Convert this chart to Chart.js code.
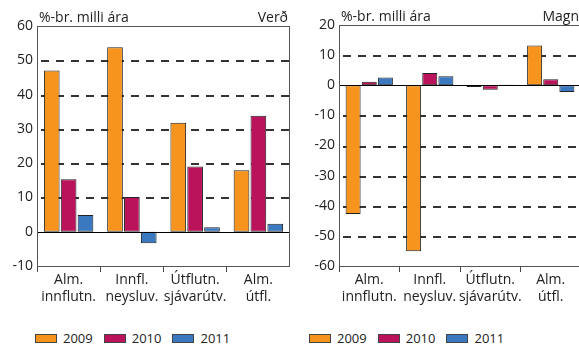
<!DOCTYPE html>
<html><head><meta charset="utf-8">
<script src="https://cdn.jsdelivr.net/npm/chart.js@4/dist/chart.umd.min.js"></script>
<style>
html,body{margin:0;padding:0;background:#fff;overflow:hidden;width:579px;height:349px;}
#wrap{position:relative;width:579px;height:349px;overflow:hidden;}
.panel{position:absolute;top:0;height:310px;}
.legend{position:absolute;top:329px;display:flex;font:13px "Open Sans",sans-serif;color:#222;}
.item{display:flex;align-items:center;margin-right:11px;}
.box{width:20px;height:7px;border:1px solid #444;margin-right:6px;}
</style></head><body>
<div id="wrap">
<div class="panel" style="left:0;width:290px;"><canvas id="c1"></canvas></div>
<div class="panel" style="left:290px;width:291px;"><canvas id="c2"></canvas></div>
<div class="legend" id="l1" style="left:35px;"></div>
<div class="legend" id="l2" style="left:309px;"></div>
</div>
<script>
const categories = [["Alm.","innflutn."],["Innfl.","neysluv."],["Útflutn.","sjávarútv."],["Alm.","útfl."]];
const seriesNames = ["2009","2010","2011"];
const verd2009 = [47.0, 53.8, 31.8, 17.9];
const verd2010 = [15.3, 10.1, 19.0, 33.8];
const verd2011 = [4.9, -3.4, 1.3, 2.3];
const magn2009 = [-42.7, -55.1, -0.6, 13.2];
const magn2010 = [1.2, 4.1, -1.5, 2.0];
const magn2011 = [2.6, 3.0, 0.2, -2.2];
const colors = ["#F7941D", "#BA135C", "#3A78C0"];
const FONT = '"Open Sans", sans-serif';

function drawDashes(chart, color, w) {
  const {ctx, chartArea: a} = chart;
  const ys = chart.scales.y;
  ctx.save();
  ctx.fillStyle = color;
  for (const t of ys.ticks) {
    const v = Number(t.value);
    if (v <= ys.min || v >= ys.max || v === 0) continue;
    const y = Math.round(ys.getPixelForValue(v));
    for (let x = a.left + 4; x < a.right; x += 15) {
      ctx.fillRect(x, y, Math.min(8, a.right - x), w);
    }
  }
  ctx.restore();
}

const framePlugin = {
  id: 'frameText',
  beforeDatasetsDraw(chart) {
    drawDashes(chart, '#333', 2);
  },
  afterDraw(chart, args, opts) {
    const {ctx, chartArea: a} = chart;
    const y0 = Math.round(chart.scales.y.getPixelForValue(0));
    ctx.save();
    ctx.fillStyle = '#000';
    ctx.fillRect(a.left, y0, a.right - a.left, 1);
    ctx.fillStyle = '#555';
    const L = Math.round(a.left), R = Math.round(a.right) - 1, T = Math.round(a.top), B = Math.round(a.bottom);
    ctx.fillRect(L, T, R - L + 1, 1);
    ctx.fillRect(L, B, R - L + 1, 1);
    ctx.fillRect(L, T, 1, B - T + 1);
    ctx.fillRect(R, T, 1, B - T + 1);
    ctx.fillStyle = '#222';
    ctx.font = '14px ' + FONT;
    ctx.textBaseline = 'alphabetic';
    ctx.textAlign = 'left';
    ctx.fillText(opts.leftText, a.left + 2, a.top - 4);
    ctx.textAlign = 'right';
    ctx.fillText(opts.rightText, a.right - 2, a.top - 4);
    ctx.restore();
  }
};

function makeChart(id, data, min, max, yWidth, topPad, leftText, rightText) {
  new Chart(document.getElementById(id), {
    type: 'bar',
    data: {
      labels: categories,
      datasets: data.map((d, i) => ({
        label: seriesNames[i], data: d, backgroundColor: colors[i],
        borderColor: '#222', borderWidth: 1, borderSkipped: false,
        categoryPercentage: 0.8, barPercentage: 0.93
      }))
    },
    options: {
      responsive: true, maintainAspectRatio: false, animation: false,
      layout: {padding: {top: topPad, left: 0, right: 0, bottom: 0}},
      plugins: {legend: {display: false}, tooltip: {enabled: false},
        frameText: {leftText, rightText}},
      scales: {
        x: {
          grid: {display: true, drawOnChartArea: false, offset: true, tickLength: 6, tickWidth: 1, color: '#444', tickColor: '#444'},
          border: {display: false},
          ticks: {font: {family: FONT, size: 14}, color: '#222', padding: 0, maxRotation: 0, autoSkip: false},
          afterFit: s => { s.height = 44; }
        },
        y: {
          min, max,
          ticks: {stepSize: 10, font: {family: FONT, size: 14}, color: '#222', padding: 4},
          grid: {display: false, drawTicks: false},
          border: {display: false},
          afterFit: s => { s.width = yWidth; }
        }
      }
    },
    plugins: [framePlugin]
  });
}

makeChart('c1', [verd2009, verd2010, verd2011], -10, 60, 37, 26, '%-br. milli ára', 'Verð');
makeChart('c2', [magn2009, magn2010, magn2011], -60, 20, 49, 25, '%-br. milli ára', 'Magn');

function legend(id) {
  const el = document.getElementById(id);
  seriesNames.forEach((n, i) => {
    const it = document.createElement('div'); it.className = 'item';
    const b = document.createElement('span'); b.className = 'box'; b.style.background = colors[i];
    const t = document.createElement('span'); t.textContent = n;
    it.appendChild(b); it.appendChild(t); el.appendChild(it);
  });
}
legend('l1'); legend('l2');
</script>
</body></html>
